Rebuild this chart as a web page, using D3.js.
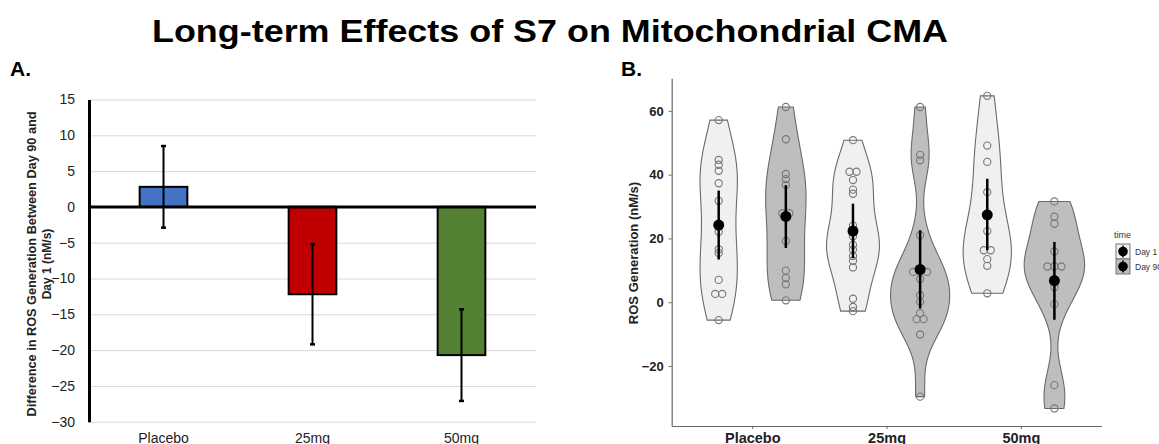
<!DOCTYPE html>
<html>
<head>
<meta charset="utf-8">
<script src="https://cdn.jsdelivr.net/npm/d3@7"></script>
<style>
body { margin: 0; background: #fff; }
text { font-family: "Liberation Sans", Arial, Helvetica, sans-serif; }
</style>
</head>
<body>
<div id="container"></div>
<script>
var width = 1159, height = 444;

// panel A: difference Day 90 - Day 1
var doses = ['Placebo', '25mg', '50mg'];
var diffMeans = [2.8, -12.2, -20.7];
var diffErrors = [5.7, 7.0, 6.4];
var diffTicks = [-30, -25, -20, -15, -10, -5, 0, 5, 10, 15];

// panel B: ROS generation per animal
var times = ['Day 1', 'Day 90'];
var rosTicks = [-20, 0, 20, 40, 60];
var placeboDay1 = [57.1, 44.6, 43.1, 41.2, 37.3, 31.8, 22.1, 16.6, 15.4, 7.0, 2.6, 2.6, -5.6];
var placeboDay90 = [61.2, 51.1, 40.2, 38.6, 36.8, 27.9, 27.9, 19.2, 9.9, 7.6, 5.6, 0.6];
var mg25Day1 = [50.8, 40.9, 40.9, 38.3, 35.3, 34.0, 24.0, 22.5, 20.7, 18.0, 16.5, 14.5, 13.0, 10.9, 1.1, -1.5, -2.8];
var mg25Day90 = [61.2, 46.2, 44.5, 21.0, 9.5, 9.5, 9.5, 7.3, 2.2, 0.1, -3.5, -5.3, -5.3, -10.1, -29.6];
var mg50Day1 = [64.7, 49.1, 44.0, 34.5, 22.3, 16.3, 16.3, 13.5, 11.4, 2.8];
var mg50Day90 = [31.6, 26.8, 24.6, 15.9, 11.2, 11.2, 11.2, 4.7, -0.6, -26.0, -33.3];
// mean and interval per group (Placebo D1, D90, 25mg D1, D90, 50mg D1, D90)
var rosMeans = [24.2, 26.9, 22.3, 10.3, 27.4, 6.8];
var rosLow = [13.4, 17.0, 13.8, -2.0, 16.3, -5.5];
var rosHigh = [35.0, 36.7, 30.9, 22.6, 38.7, 18.9];

var barColors = ['#4472c4', '#c00000', '#548235'];
var violinFill = {'Day 1': '#f0f0f0', 'Day 90': '#bebebe'};

var svg = d3.select('#container').append('svg')
	.attr('width', width)
	.attr('height', height);

svg.append('text')
	.attr('x', 550).attr('y', 42)
	.attr('text-anchor', 'middle')
	.attr('font-size', 31).attr('font-weight', 'bold')
	.attr('textLength', 796).attr('lengthAdjust', 'spacingAndGlyphs')
	.text('Long-term Effects of S7 on Mitochondrial CMA');

function drawPanelA() {
	var xA = d3.scaleBand().domain(doses).range([89, 536]).paddingInner(0.68).paddingOuter(0.34);
	var yA = d3.scaleLinear().domain([-30, 15]).range([421.7, 99.5]);
	var g = svg.append('g');

	g.append('text').attr('x', 10).attr('y', 76)
		.attr('font-size', 21).attr('font-weight', 'bold').text('A.');

	// grid
	g.append('g')
		.call(d3.axisLeft(yA).tickValues(diffTicks).tickSize(-(536 - 89)).tickFormat(''))
		.attr('transform', 'translate(89,0)')
		.call(function(s){
			s.select('.domain').remove();
			s.selectAll('line').attr('stroke', '#d9d9d9').attr('stroke-width', 1);
		});

	var yAxis = g.append('g')
		.attr('transform', 'translate(89,0)')
		.call(d3.axisLeft(yA).tickValues(diffTicks).tickSize(0).tickSizeOuter(0).tickPadding(14));
	yAxis.select('.domain').attr('stroke', '#000').attr('stroke-width', 3);
	yAxis.selectAll('text').attr('font-size', 14).attr('fill', '#222')
		.attr('font-family', '"Liberation Sans", Arial, sans-serif');

	// bars
	g.selectAll('rect.bar').data(doses).enter().append('rect')
		.attr('class', 'bar')
		.attr('x', function(d){ return xA(d); })
		.attr('width', xA.bandwidth())
		.attr('y', function(d, i){ return yA(Math.max(0, diffMeans[i])); })
		.attr('height', function(d, i){ return Math.abs(yA(diffMeans[i]) - yA(0)); })
		.attr('fill', function(d, i){ return barColors[i]; })
		.attr('stroke', '#000').attr('stroke-width', 2);

	// zero line
	g.append('line')
		.attr('x1', 89).attr('x2', 536)
		.attr('y1', yA(0)).attr('y2', yA(0))
		.attr('stroke', '#000').attr('stroke-width', 3);

	// error bars
	var cx = function(d){ return xA(d) + xA.bandwidth() / 2; };
	var eb = g.selectAll('g.err').data(doses).enter().append('g').attr('class', 'err');
	eb.append('line')
		.attr('x1', cx).attr('x2', cx)
		.attr('y1', function(d, i){ return yA(diffMeans[i] + diffErrors[i]); })
		.attr('y2', function(d, i){ return yA(diffMeans[i] - diffErrors[i]); })
		.attr('stroke', '#000').attr('stroke-width', 2);
	[1, -1].forEach(function(sign){
		eb.append('line')
			.attr('x1', function(d){ return cx(d) - 2.5; })
			.attr('x2', function(d){ return cx(d) + 2.5; })
			.attr('y1', function(d, i){ return yA(diffMeans[i] + sign * diffErrors[i]); })
			.attr('y2', function(d, i){ return yA(diffMeans[i] + sign * diffErrors[i]); })
			.attr('stroke', '#000').attr('stroke-width', 2.5);
	});

	g.selectAll('text.xlab').data(doses).enter().append('text')
		.attr('class', 'xlab')
		.attr('x', cx).attr('y', 443)
		.attr('text-anchor', 'middle')
		.attr('font-size', 14).attr('fill', '#222')
		.text(function(d){ return d; });

	var title = g.append('text')
		.attr('transform', 'translate(0,264) rotate(-90)')
		.attr('text-anchor', 'middle')
		.attr('font-size', 12).attr('font-weight', 'bold').attr('fill', '#222');
	title.append('tspan').attr('x', 0).attr('y', 35.5)
		.attr('textLength', 305).attr('lengthAdjust', 'spacingAndGlyphs')
		.text('Difference in ROS Generation Between Day 90 and');
	title.append('tspan').attr('x', 0).attr('y', 51)
		.text('Day 1 (nM/s)');
}

function bwNrd0(values) {
	var s = values.slice().sort(d3.ascending);
	var sd = d3.deviation(s);
	var iqr = d3.quantile(s, 0.75) - d3.quantile(s, 0.25);
	var lo = Math.min(sd, iqr / 1.34);
	if (!lo) lo = sd || 1;
	return 0.9 * lo * Math.pow(s.length, -0.2);
}

function density(values) {
	var h = bwNrd0(values), n = values.length;
	var lo = d3.min(values), hi = d3.max(values);
	return d3.range(512).map(function(i){
		var y = lo + (hi - lo) * i / 511;
		var sum = d3.sum(values, function(v){ var z = (y - v) / h; return Math.exp(-0.5 * z * z); });
		return {v: y, d: sum / (n * h * Math.sqrt(2 * Math.PI))};
	});
}

function drawPanelB() {
	var xB = d3.scalePoint().domain(doses).range([671.7, 1101.4]).padding(0.6);
	var yB = d3.scaleLinear().domain([-38.8, 70.2]).range([426, 78.3]);
	var dodge = d3.scalePoint().domain(times).range([-0.25, 0.25]);
	var g = svg.append('g');

	g.append('text').attr('x', 621).attr('y', 76)
		.attr('font-size', 21).attr('font-weight', 'bold').text('B.');

	var series = [placeboDay1, placeboDay90, mg25Day1, mg25Day90, mg50Day1, mg50Day90];
	var groups = series.map(function(values, i){
		return {
			dose: doses[Math.floor(i / 2)], time: times[i % 2], values: values,
			mean: rosMeans[i], lo: rosLow[i], hi: rosHigh[i], dens: density(values)
		};
	});
	groups.forEach(function(gr){ gr.cx = xB(gr.dose) + dodge(gr.time) * xB.step(); });

	var maxD = d3.max(groups, function(gr){ return d3.max(gr.dens, function(p){ return p.d; }); });
	var halfW = d3.scaleLinear().domain([0, maxD]).range([0, 0.225 * xB.step()]);

	// violins
	g.selectAll('path.violin').data(groups).enter().append('path')
		.attr('class', 'violin')
		.attr('d', function(gr){
			return d3.area()
				.y(function(p){ return yB(p.v); })
				.x0(function(p){ return gr.cx - halfW(p.d); })
				.x1(function(p){ return gr.cx + halfW(p.d); })(gr.dens);
		})
		.attr('fill', function(gr){ return violinFill[gr.time]; })
		.attr('stroke', '#6a6a6a').attr('stroke-width', 1.1);

	// points, equal values set side by side
	groups.forEach(function(gr){
		var counts = d3.rollup(gr.values, function(v){ return v.length; }, function(v){ return v; });
		var seen = new Map();
		gr.values.forEach(function(v){
			var k = seen.get(v) || 0; seen.set(v, k + 1);
			var n = counts.get(v);
			g.append('circle')
				.attr('cx', gr.cx + (k - (n - 1) / 2) * 7)
				.attr('cy', yB(v))
				.attr('r', 3.6)
				.attr('fill', 'none')
				.attr('stroke', '#777').attr('stroke-width', 1.1);
		});
	});

	// intervals and means
	g.selectAll('line.ci').data(groups).enter().append('line')
		.attr('class', 'ci')
		.attr('x1', function(gr){ return gr.cx; }).attr('x2', function(gr){ return gr.cx; })
		.attr('y1', function(gr){ return yB(gr.hi); }).attr('y2', function(gr){ return yB(gr.lo); })
		.attr('stroke', '#000').attr('stroke-width', 2.5);
	g.selectAll('circle.mean').data(groups).enter().append('circle')
		.attr('class', 'mean')
		.attr('cx', function(gr){ return gr.cx; })
		.attr('cy', function(gr){ return yB(gr.mean); })
		.attr('r', 5.5).attr('fill', '#000');

	// axes
	var ax = g.append('g').attr('transform', 'translate(671.7,0)')
		.call(d3.axisLeft(yB).tickValues(rosTicks).tickSizeInner(3).tickSizeOuter(0).tickPadding(5));
	var bx = g.append('g').attr('transform', 'translate(0,426)')
		.call(d3.axisBottom(xB).tickSizeInner(3).tickSizeOuter(0).tickPadding(4));
	[ax, bx].forEach(function(a){
		a.select('.domain').attr('stroke', '#666').attr('stroke-width', 1.2);
		a.selectAll('.tick line').attr('stroke', '#666');
		a.selectAll('text').attr('font-family', '"Liberation Sans", Arial, sans-serif')
			.attr('font-weight', 'bold').attr('fill', '#222');
	});
	ax.selectAll('text').attr('font-size', 13);
	bx.selectAll('text').attr('font-size', 14.5);

	g.append('text')
		.attr('transform', 'translate(633,253) rotate(-90)')
		.attr('text-anchor', 'middle').attr('dominant-baseline', 'central')
		.attr('font-size', 13).attr('font-weight', 'bold').attr('fill', '#222')
		.text('ROS Generation (nM/s)');

	// legend
	var lg = g.append('g');
	lg.append('text').attr('x', 1114).attr('y', 238)
		.attr('font-size', 9).attr('fill', '#333').text('time');
	var keys = lg.selectAll('g.key').data(times).enter().append('g')
		.attr('class', 'key')
		.attr('transform', function(d, i){ return 'translate(1116,' + (244 + i * 15) + ')'; });
	keys.append('rect').attr('width', 14).attr('height', 15)
		.attr('fill', function(d){ return violinFill[d]; })
		.attr('stroke', '#777').attr('stroke-width', 1);
	keys.append('line').attr('x1', 7).attr('x2', 7).attr('y1', 1.5).attr('y2', 13.5)
		.attr('stroke', '#000').attr('stroke-width', 1.5);
	keys.append('circle').attr('cx', 7).attr('cy', 7.5).attr('r', 4.8).attr('fill', '#000');
	keys.append('text').attr('x', 19).attr('y', 10.5)
		.attr('font-size', 8.5).attr('fill', '#333')
		.text(function(d){ return d; });
}

drawPanelA();
drawPanelB();
</script>
</body>
</html>
